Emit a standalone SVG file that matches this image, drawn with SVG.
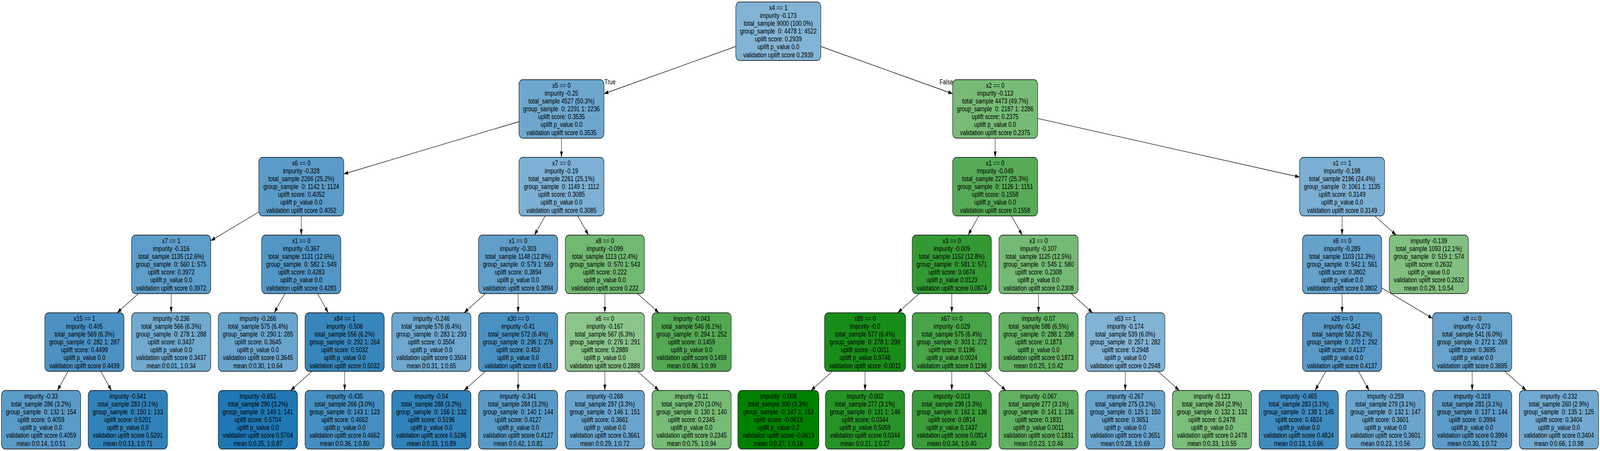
<svg xmlns="http://www.w3.org/2000/svg" width="5493" height="1155" viewBox="0 0 5493 1155" preserveAspectRatio="none" style="width:100vw;height:100vh;display:block">
<style>
text{font-family:"Liberation Sans",Arial,Helvetica,sans-serif;font-size:19px;fill:#000}
.nd text{text-anchor:middle}
.nd rect{stroke:#000;stroke-width:1.3}
#connectors line{stroke:#000;stroke-width:1.3;fill:none}
</style>
<defs>
<marker id="arr" markerUnits="userSpaceOnUse" markerWidth="15" markerHeight="10" refX="15" refY="5" orient="auto"><path d="M0,0 L15,5 L0,10 Z" fill="#000"/></marker>
</defs>
<rect width="5493" height="1155" fill="#fff"/>
<g id="connectors" marker-end="url(#arr)">
<line x1="2526.1" y1="119" x2="2073.6" y2="240"/>
<line x1="2818.1" y1="119" x2="3270.5" y2="240"/>
<line x1="1781.6" y1="311.5" x2="1180.3" y2="445.5"/>
<line x1="1927.6" y1="354" x2="1927.6" y2="403"/>
<line x1="3416.5" y1="354" x2="3416.5" y2="403"/>
<line x1="3562.5" y1="303.4" x2="4461.6" y2="453.6"/>
<line x1="888.3" y1="543" x2="723.7" y2="616.4"/>
<line x1="1034.3" y1="553" x2="1034.3" y2="602"/>
<line x1="1871.5" y1="553" x2="1834.8" y2="602"/>
<line x1="1983.7" y1="553" x2="2020.4" y2="602"/>
<line x1="3360.4" y1="553" x2="3323.7" y2="602"/>
<line x1="3472.6" y1="553" x2="3509.3" y2="602"/>
<line x1="4607.6" y1="553" x2="4607.6" y2="602"/>
<line x1="4719.8" y1="553" x2="4793.2" y2="602"/>
<line x1="475.5" y1="752" x2="402.1" y2="801"/>
<line x1="587.7" y1="752" x2="587.7" y2="801"/>
<line x1="978.2" y1="752" x2="941.5" y2="801"/>
<line x1="1090.4" y1="752" x2="1127.1" y2="801"/>
<line x1="1666.5" y1="752" x2="1593.2" y2="801"/>
<line x1="1778.7" y1="752" x2="1778.7" y2="801"/>
<line x1="2076.5" y1="752" x2="2076.5" y2="801"/>
<line x1="2188.7" y1="752" x2="2262.1" y2="801"/>
<line x1="3155.4" y1="752" x2="3082.0" y2="801"/>
<line x1="3267.6" y1="752" x2="3267.6" y2="801"/>
<line x1="3565.4" y1="752" x2="3565.4" y2="801"/>
<line x1="3677.6" y1="752" x2="3751.0" y2="801"/>
<line x1="4607.6" y1="752" x2="4607.6" y2="801"/>
<line x1="4743.6" y1="737.6" x2="4918.2" y2="815.4"/>
<line x1="233.8" y1="951" x2="197.1" y2="1000"/>
<line x1="346.0" y1="951" x2="382.7" y2="1000"/>
<line x1="1071.0" y1="951" x2="997.6" y2="1000"/>
<line x1="1183.2" y1="951" x2="1183.2" y2="1000"/>
<line x1="1666.5" y1="951" x2="1593.2" y2="1000"/>
<line x1="1778.7" y1="951" x2="1778.7" y2="1000"/>
<line x1="2076.5" y1="951" x2="2076.5" y2="1000"/>
<line x1="2188.7" y1="951" x2="2262.1" y2="1000"/>
<line x1="2857.6" y1="951" x2="2784.3" y2="1000"/>
<line x1="2969.8" y1="951" x2="2969.8" y2="1000"/>
<line x1="3267.6" y1="951" x2="3267.6" y2="1000"/>
<line x1="3379.8" y1="951" x2="3453.2" y2="1000"/>
<line x1="3863.2" y1="951" x2="3863.2" y2="1000"/>
<line x1="3975.4" y1="951" x2="4048.7" y2="1000"/>
<line x1="4551.5" y1="951" x2="4514.8" y2="1000"/>
<line x1="4663.7" y1="951" x2="4700.4" y2="1000"/>
<line x1="5054.2" y1="951" x2="5054.2" y2="1000"/>
<line x1="5166.4" y1="951" x2="5239.8" y2="1000"/>
</g>
<g id="edge-labels">
<text x="2075" y="216">True</text>
<text x="3272" y="216" text-anchor="end">False</text>
</g>
<g id="n_root" class="nd"><rect x="2526.1" y="5" width="292" height="150" rx="13" fill="#83b4d5"/><text x="2672.1" y="26" xml:space="preserve"><tspan x="2672.1">x4 == 1</tspan><tspan x="2672.1" dy="20.1">impurity -0.173</tspan><tspan x="2672.1" dy="20.1">total_sample 9000 (100.0%)</tspan><tspan x="2672.1" dy="20.1">group_sample  0: 4478 1: 4522</tspan><tspan x="2672.1" dy="20.1">uplift score: 0.2939</tspan><tspan x="2672.1" dy="20.1">uplift p_value 0.0</tspan><tspan x="2672.1" dy="20.1">validation uplift score 0.2939</tspan></text></g>
<g id="n_x5" class="nd"><rect x="1781.6" y="204" width="292" height="150" rx="13" fill="#6da7ce"/><text x="1927.6" y="225" xml:space="preserve"><tspan x="1927.6">x5 == 0</tspan><tspan x="1927.6" dy="20.1">impurity -0.25</tspan><tspan x="1927.6" dy="20.1">total_sample 4527 (50.3%)</tspan><tspan x="1927.6" dy="20.1">group_sample  0: 2291 1: 2236</tspan><tspan x="1927.6" dy="20.1">uplift score: 0.3535</tspan><tspan x="1927.6" dy="20.1">uplift p_value 0.0</tspan><tspan x="1927.6" dy="20.1">validation uplift score 0.3535</tspan></text></g>
<g id="n_x2" class="nd"><rect x="3270.5" y="204" width="292" height="150" rx="13" fill="#77bb77"/><text x="3416.5" y="225" xml:space="preserve"><tspan x="3416.5">x2 == 0</tspan><tspan x="3416.5" dy="20.1">impurity -0.113</tspan><tspan x="3416.5" dy="20.1">total_sample 4473 (49.7%)</tspan><tspan x="3416.5" dy="20.1">group_sample  0: 2187 1: 2286</tspan><tspan x="3416.5" dy="20.1">uplift score: 0.2375</tspan><tspan x="3416.5" dy="20.1">uplift p_value 0.0</tspan><tspan x="3416.5" dy="20.1">validation uplift score 0.2375</tspan></text></g>
<g id="n_x6_L2" class="nd"><rect x="888.3" y="403" width="292" height="150" rx="13" fill="#5b9bc8"/><text x="1034.3" y="424" xml:space="preserve"><tspan x="1034.3">x6 == 0</tspan><tspan x="1034.3" dy="20.1">impurity -0.328</tspan><tspan x="1034.3" dy="20.1">total_sample 2266 (25.2%)</tspan><tspan x="1034.3" dy="20.1">group_sample  0: 1142 1: 1124</tspan><tspan x="1034.3" dy="20.1">uplift score: 0.4052</tspan><tspan x="1034.3" dy="20.1">uplift p_value 0.0</tspan><tspan x="1034.3" dy="20.1">validation uplift score 0.4052</tspan></text></g>
<g id="n_x7_L2" class="nd"><rect x="1781.6" y="403" width="292" height="150" rx="13" fill="#7db0d4"/><text x="1927.6" y="424" xml:space="preserve"><tspan x="1927.6">x7 == 0</tspan><tspan x="1927.6" dy="20.1">impurity -0.19</tspan><tspan x="1927.6" dy="20.1">total_sample 2261 (25.1%)</tspan><tspan x="1927.6" dy="20.1">group_sample  0: 1149 1: 1112</tspan><tspan x="1927.6" dy="20.1">uplift score: 0.3085</tspan><tspan x="1927.6" dy="20.1">uplift p_value 0.0</tspan><tspan x="1927.6" dy="20.1">validation uplift score 0.3085</tspan></text></g>
<g id="n_x1_L2a" class="nd"><rect x="3270.5" y="403" width="292" height="150" rx="13" fill="#57ab57"/><text x="3416.5" y="424" xml:space="preserve"><tspan x="3416.5">x1 == 0</tspan><tspan x="3416.5" dy="20.1">impurity -0.049</tspan><tspan x="3416.5" dy="20.1">total_sample 2277 (25.3%)</tspan><tspan x="3416.5" dy="20.1">group_sample  0: 1126 1: 1151</tspan><tspan x="3416.5" dy="20.1">uplift score: 0.1558</tspan><tspan x="3416.5" dy="20.1">uplift p_value 0.0</tspan><tspan x="3416.5" dy="20.1">validation uplift score 0.1558</tspan></text></g>
<g id="n_x1_L2b" class="nd"><rect x="4461.6" y="403" width="292" height="150" rx="13" fill="#7bafd3"/><text x="4607.6" y="424" xml:space="preserve"><tspan x="4607.6">x1 == 1</tspan><tspan x="4607.6" dy="20.1">impurity -0.198</tspan><tspan x="4607.6" dy="20.1">total_sample 2196 (24.4%)</tspan><tspan x="4607.6" dy="20.1">group_sample  0: 1061 1: 1135</tspan><tspan x="4607.6" dy="20.1">uplift score: 0.3149</tspan><tspan x="4607.6" dy="20.1">uplift p_value 0.0</tspan><tspan x="4607.6" dy="20.1">validation uplift score 0.3149</tspan></text></g>
<g id="n_x7_L3" class="nd"><rect x="451.7" y="602" width="272" height="150" rx="13" fill="#5d9dc9"/><text x="587.7" y="623" xml:space="preserve"><tspan x="587.7">x7 == 1</tspan><tspan x="587.7" dy="20.1">impurity -0.316</tspan><tspan x="587.7" dy="20.1">total_sample 1135 (12.6%)</tspan><tspan x="587.7" dy="20.1">group_sample  0: 560 1: 575</tspan><tspan x="587.7" dy="20.1">uplift score: 0.3972</tspan><tspan x="587.7" dy="20.1">uplift p_value 0.0</tspan><tspan x="587.7" dy="20.1">validation uplift score 0.3972</tspan></text></g>
<g id="n_x1_L3a" class="nd"><rect x="898.3" y="602" width="272" height="150" rx="13" fill="#5296c5"/><text x="1034.3" y="623" xml:space="preserve"><tspan x="1034.3">x1 == 0</tspan><tspan x="1034.3" dy="20.1">impurity -0.367</tspan><tspan x="1034.3" dy="20.1">total_sample 1131 (12.6%)</tspan><tspan x="1034.3" dy="20.1">group_sample  0: 582 1: 549</tspan><tspan x="1034.3" dy="20.1">uplift score: 0.4283</tspan><tspan x="1034.3" dy="20.1">uplift p_value 0.0</tspan><tspan x="1034.3" dy="20.1">validation uplift score 0.4283</tspan></text></g>
<g id="n_x1_L3b" class="nd"><rect x="1642.7" y="602" width="272" height="150" rx="13" fill="#609fca"/><text x="1778.7" y="623" xml:space="preserve"><tspan x="1778.7">x1 == 0</tspan><tspan x="1778.7" dy="20.1">impurity -0.303</tspan><tspan x="1778.7" dy="20.1">total_sample 1148 (12.8%)</tspan><tspan x="1778.7" dy="20.1">group_sample  0: 579 1: 569</tspan><tspan x="1778.7" dy="20.1">uplift score: 0.3894</tspan><tspan x="1778.7" dy="20.1">uplift p_value 0.0</tspan><tspan x="1778.7" dy="20.1">validation uplift score 0.3894</tspan></text></g>
<g id="n_x8_L3" class="nd"><rect x="1940.5" y="602" width="272" height="150" rx="13" fill="#71b871"/><text x="2076.5" y="623" xml:space="preserve"><tspan x="2076.5">x8 == 0</tspan><tspan x="2076.5" dy="20.1">impurity -0.099</tspan><tspan x="2076.5" dy="20.1">total_sample 1113 (12.4%)</tspan><tspan x="2076.5" dy="20.1">group_sample  0: 570 1: 543</tspan><tspan x="2076.5" dy="20.1">uplift score: 0.222</tspan><tspan x="2076.5" dy="20.1">uplift p_value 0.0</tspan><tspan x="2076.5" dy="20.1">validation uplift score 0.222</tspan></text></g>
<g id="n_x3_L3a" class="nd"><rect x="3131.6" y="602" width="272" height="150" rx="13" fill="#339a33"/><text x="3267.6" y="623" xml:space="preserve"><tspan x="3267.6">x3 == 0</tspan><tspan x="3267.6" dy="20.1">impurity -0.009</tspan><tspan x="3267.6" dy="20.1">total_sample 1152 (12.8%)</tspan><tspan x="3267.6" dy="20.1">group_sample  0: 581 1: 571</tspan><tspan x="3267.6" dy="20.1">uplift score: 0.0674</tspan><tspan x="3267.6" dy="20.1">uplift p_value 0.0123</tspan><tspan x="3267.6" dy="20.1">validation uplift score 0.0674</tspan></text></g>
<g id="n_x3_L3b" class="nd"><rect x="3429.4" y="602" width="272" height="150" rx="13" fill="#74ba74"/><text x="3565.4" y="623" xml:space="preserve"><tspan x="3565.4">x3 == 0</tspan><tspan x="3565.4" dy="20.1">impurity -0.107</tspan><tspan x="3565.4" dy="20.1">total_sample 1125 (12.5%)</tspan><tspan x="3565.4" dy="20.1">group_sample  0: 545 1: 580</tspan><tspan x="3565.4" dy="20.1">uplift score: 0.2308</tspan><tspan x="3565.4" dy="20.1">uplift p_value 0.0</tspan><tspan x="3565.4" dy="20.1">validation uplift score 0.2308</tspan></text></g>
<g id="n_x6_L3" class="nd"><rect x="4471.6" y="602" width="272" height="150" rx="13" fill="#64a1cb"/><text x="4607.6" y="623" xml:space="preserve"><tspan x="4607.6">x6 == 0</tspan><tspan x="4607.6" dy="20.1">impurity -0.289</tspan><tspan x="4607.6" dy="20.1">total_sample 1103 (12.3%)</tspan><tspan x="4607.6" dy="20.1">group_sample  0: 542 1: 561</tspan><tspan x="4607.6" dy="20.1">uplift score: 0.3802</tspan><tspan x="4607.6" dy="20.1">uplift p_value 0.0</tspan><tspan x="4607.6" dy="20.1">validation uplift score 0.3802</tspan></text></g>
<g id="n_leaf_139" class="nd"><rect x="4769.4" y="602" width="272" height="150" rx="13" fill="#81c081"/><text x="4905.4" y="623" xml:space="preserve"><tspan x="4905.4">impurity -0.139</tspan><tspan x="4905.4" dy="20.1">total_sample 1093 (12.1%)</tspan><tspan x="4905.4" dy="20.1">group_sample  0: 519 1: 574</tspan><tspan x="4905.4" dy="20.1">uplift score: 0.2632</tspan><tspan x="4905.4" dy="20.1">uplift p_value 0.0</tspan><tspan x="4905.4" dy="20.1">validation uplift score 0.2632</tspan><tspan x="4905.4" dy="20.1">mean 0:0.29, 1:0.54</tspan></text></g>
<g id="n_x15" class="nd"><rect x="153.9" y="801" width="272" height="150" rx="13" fill="#4b91c3"/><text x="289.9" y="822" xml:space="preserve"><tspan x="289.9">x15 == 1</tspan><tspan x="289.9" dy="20.1">impurity -0.405</tspan><tspan x="289.9" dy="20.1">total_sample 569 (6.3%)</tspan><tspan x="289.9" dy="20.1">group_sample  0: 282 1: 287</tspan><tspan x="289.9" dy="20.1">uplift score: 0.4499</tspan><tspan x="289.9" dy="20.1">uplift p_value 0.0</tspan><tspan x="289.9" dy="20.1">validation uplift score 0.4499</tspan></text></g>
<g id="n_leaf_236" class="nd"><rect x="451.7" y="801" width="272" height="150" rx="13" fill="#71a9cf"/><text x="587.7" y="822" xml:space="preserve"><tspan x="587.7">impurity -0.236</tspan><tspan x="587.7" dy="20.1">total_sample 566 (6.3%)</tspan><tspan x="587.7" dy="20.1">group_sample  0: 278 1: 288</tspan><tspan x="587.7" dy="20.1">uplift score: 0.3437</tspan><tspan x="587.7" dy="20.1">uplift p_value 0.0</tspan><tspan x="587.7" dy="20.1">validation uplift score 0.3437</tspan><tspan x="587.7" dy="20.1">mean 0:0.01, 1:0.34</tspan></text></g>
<g id="n_leaf_266" class="nd"><rect x="749.4" y="801" width="272" height="150" rx="13" fill="#69a4cd"/><text x="885.4" y="822" xml:space="preserve"><tspan x="885.4">impurity -0.266</tspan><tspan x="885.4" dy="20.1">total_sample 575 (6.4%)</tspan><tspan x="885.4" dy="20.1">group_sample  0: 290 1: 285</tspan><tspan x="885.4" dy="20.1">uplift score: 0.3645</tspan><tspan x="885.4" dy="20.1">uplift p_value 0.0</tspan><tspan x="885.4" dy="20.1">validation uplift score 0.3645</tspan><tspan x="885.4" dy="20.1">mean 0:0.30, 1:0.64</tspan></text></g>
<g id="n_x84" class="nd"><rect x="1047.2" y="801" width="272" height="150" rx="13" fill="#3786bc"/><text x="1183.2" y="822" xml:space="preserve"><tspan x="1183.2">x84 == 1</tspan><tspan x="1183.2" dy="20.1">impurity -0.506</tspan><tspan x="1183.2" dy="20.1">total_sample 556 (6.2%)</tspan><tspan x="1183.2" dy="20.1">group_sample  0: 292 1: 264</tspan><tspan x="1183.2" dy="20.1">uplift score: 0.5032</tspan><tspan x="1183.2" dy="20.1">uplift p_value 0.0</tspan><tspan x="1183.2" dy="20.1">validation uplift score 0.5032</tspan></text></g>
<g id="n_leaf_246" class="nd"><rect x="1345.0" y="801" width="272" height="150" rx="13" fill="#6ea7cf"/><text x="1481.0" y="822" xml:space="preserve"><tspan x="1481.0">impurity -0.246</tspan><tspan x="1481.0" dy="20.1">total_sample 576 (6.4%)</tspan><tspan x="1481.0" dy="20.1">group_sample  0: 283 1: 293</tspan><tspan x="1481.0" dy="20.1">uplift score: 0.3504</tspan><tspan x="1481.0" dy="20.1">uplift p_value 0.0</tspan><tspan x="1481.0" dy="20.1">validation uplift score 0.3504</tspan><tspan x="1481.0" dy="20.1">mean 0:0.31, 1:0.65</tspan></text></g>
<g id="n_x30" class="nd"><rect x="1642.7" y="801" width="272" height="150" rx="13" fill="#4991c2"/><text x="1778.7" y="822" xml:space="preserve"><tspan x="1778.7">x30 == 0</tspan><tspan x="1778.7" dy="20.1">impurity -0.41</tspan><tspan x="1778.7" dy="20.1">total_sample 572 (6.4%)</tspan><tspan x="1778.7" dy="20.1">group_sample  0: 296 1: 276</tspan><tspan x="1778.7" dy="20.1">uplift score: 0.453</tspan><tspan x="1778.7" dy="20.1">uplift p_value 0.0</tspan><tspan x="1778.7" dy="20.1">validation uplift score 0.453</tspan></text></g>
<g id="n_x6_L4" class="nd"><rect x="1940.5" y="801" width="272" height="150" rx="13" fill="#8bc58b"/><text x="2076.5" y="822" xml:space="preserve"><tspan x="2076.5">x6 == 0</tspan><tspan x="2076.5" dy="20.1">impurity -0.167</tspan><tspan x="2076.5" dy="20.1">total_sample 567 (6.3%)</tspan><tspan x="2076.5" dy="20.1">group_sample  0: 276 1: 291</tspan><tspan x="2076.5" dy="20.1">uplift score: 0.2889</tspan><tspan x="2076.5" dy="20.1">uplift p_value 0.0</tspan><tspan x="2076.5" dy="20.1">validation uplift score 0.2889</tspan></text></g>
<g id="n_leaf_043" class="nd"><rect x="2238.3" y="801" width="272" height="150" rx="13" fill="#53a953"/><text x="2374.3" y="822" xml:space="preserve"><tspan x="2374.3">impurity -0.043</tspan><tspan x="2374.3" dy="20.1">total_sample 546 (6.1%)</tspan><tspan x="2374.3" dy="20.1">group_sample  0: 294 1: 252</tspan><tspan x="2374.3" dy="20.1">uplift score: 0.1459</tspan><tspan x="2374.3" dy="20.1">uplift p_value 0.0</tspan><tspan x="2374.3" dy="20.1">validation uplift score 0.1459</tspan><tspan x="2374.3" dy="20.1">mean 0:0.86, 1:0.99</tspan></text></g>
<g id="n_x89" class="nd"><rect x="2830.8" y="801" width="278" height="150" rx="13" fill="#188c18"/><text x="2969.8" y="822" xml:space="preserve"><tspan x="2969.8">x89 == 0</tspan><tspan x="2969.8" dy="20.1">impurity -0.0</tspan><tspan x="2969.8" dy="20.1">total_sample 577 (6.4%)</tspan><tspan x="2969.8" dy="20.1">group_sample  0: 278 1: 299</tspan><tspan x="2969.8" dy="20.1">uplift score: -0.0011</tspan><tspan x="2969.8" dy="20.1">uplift p_value 0.9746</tspan><tspan x="2969.8" dy="20.1">validation uplift score -0.0011</tspan></text></g>
<g id="n_x67" class="nd"><rect x="3131.6" y="801" width="272" height="150" rx="13" fill="#48a448"/><text x="3267.6" y="822" xml:space="preserve"><tspan x="3267.6">x67 == 0</tspan><tspan x="3267.6" dy="20.1">impurity -0.029</tspan><tspan x="3267.6" dy="20.1">total_sample 575 (6.4%)</tspan><tspan x="3267.6" dy="20.1">group_sample  0: 303 1: 272</tspan><tspan x="3267.6" dy="20.1">uplift score: 0.1196</tspan><tspan x="3267.6" dy="20.1">uplift p_value 0.0024</tspan><tspan x="3267.6" dy="20.1">validation uplift score 0.1196</tspan></text></g>
<g id="n_leaf_07" class="nd"><rect x="3429.4" y="801" width="272" height="150" rx="13" fill="#63b163"/><text x="3565.4" y="822" xml:space="preserve"><tspan x="3565.4">impurity -0.07</tspan><tspan x="3565.4" dy="20.1">total_sample 586 (6.5%)</tspan><tspan x="3565.4" dy="20.1">group_sample  0: 288 1: 298</tspan><tspan x="3565.4" dy="20.1">uplift score: 0.1873</tspan><tspan x="3565.4" dy="20.1">uplift p_value 0.0</tspan><tspan x="3565.4" dy="20.1">validation uplift score 0.1873</tspan><tspan x="3565.4" dy="20.1">mean 0:0.25, 1:0.42</tspan></text></g>
<g id="n_x63" class="nd"><rect x="3727.2" y="801" width="272" height="150" rx="13" fill="#82b3d5"/><text x="3863.2" y="822" xml:space="preserve"><tspan x="3863.2">x63 == 1</tspan><tspan x="3863.2" dy="20.1">impurity -0.174</tspan><tspan x="3863.2" dy="20.1">total_sample 539 (6.0%)</tspan><tspan x="3863.2" dy="20.1">group_sample  0: 257 1: 282</tspan><tspan x="3863.2" dy="20.1">uplift score: 0.2948</tspan><tspan x="3863.2" dy="20.1">uplift p_value 0.0</tspan><tspan x="3863.2" dy="20.1">validation uplift score 0.2948</tspan></text></g>
<g id="n_x26" class="nd"><rect x="4471.6" y="801" width="272" height="150" rx="13" fill="#5899c7"/><text x="4607.6" y="822" xml:space="preserve"><tspan x="4607.6">x26 == 0</tspan><tspan x="4607.6" dy="20.1">impurity -0.342</tspan><tspan x="4607.6" dy="20.1">total_sample 562 (6.2%)</tspan><tspan x="4607.6" dy="20.1">group_sample  0: 270 1: 292</tspan><tspan x="4607.6" dy="20.1">uplift score: 0.4137</tspan><tspan x="4607.6" dy="20.1">uplift p_value 0.0</tspan><tspan x="4607.6" dy="20.1">validation uplift score 0.4137</tspan></text></g>
<g id="n_x8_L4" class="nd"><rect x="4918.2" y="801" width="272" height="150" rx="13" fill="#67a3cc"/><text x="5054.2" y="822" xml:space="preserve"><tspan x="5054.2">x8 == 0</tspan><tspan x="5054.2" dy="20.1">impurity -0.273</tspan><tspan x="5054.2" dy="20.1">total_sample 541 (6.0%)</tspan><tspan x="5054.2" dy="20.1">group_sample  0: 272 1: 269</tspan><tspan x="5054.2" dy="20.1">uplift score: 0.3695</tspan><tspan x="5054.2" dy="20.1">uplift p_value 0.0</tspan><tspan x="5054.2" dy="20.1">validation uplift score 0.3695</tspan></text></g>
<g id="n_leaf_33" class="nd"><rect x="5" y="1000" width="272" height="150" rx="13" fill="#5a9bc8"/><text x="141" y="1021" xml:space="preserve"><tspan x="141">impurity -0.33</tspan><tspan x="141" dy="20.1">total_sample 286 (3.2%)</tspan><tspan x="141" dy="20.1">group_sample  0: 132 1: 154</tspan><tspan x="141" dy="20.1">uplift score: 0.4059</tspan><tspan x="141" dy="20.1">uplift p_value 0.0</tspan><tspan x="141" dy="20.1">validation uplift score 0.4059</tspan><tspan x="141" dy="20.1">mean 0:0.14, 1:0.51</tspan></text></g>
<g id="n_leaf_541" class="nd"><rect x="302.8" y="1000" width="272" height="150" rx="13" fill="#3182ba"/><text x="438.8" y="1021" xml:space="preserve"><tspan x="438.8">impurity -0.541</tspan><tspan x="438.8" dy="20.1">total_sample 283 (3.1%)</tspan><tspan x="438.8" dy="20.1">group_sample  0: 150 1: 133</tspan><tspan x="438.8" dy="20.1">uplift score: 0.5201</tspan><tspan x="438.8" dy="20.1">uplift p_value 0.0</tspan><tspan x="438.8" dy="20.1">validation uplift score 0.5201</tspan><tspan x="438.8" dy="20.1">mean 0:0.13, 1:0.71</tspan></text></g>
<g id="n_leaf_651" class="nd"><rect x="749.4" y="1000" width="272" height="150" rx="13" fill="#1f77b4"/><text x="885.4" y="1021" xml:space="preserve"><tspan x="885.4">impurity -0.651</tspan><tspan x="885.4" dy="20.1">total_sample 290 (3.2%)</tspan><tspan x="885.4" dy="20.1">group_sample  0: 149 1: 141</tspan><tspan x="885.4" dy="20.1">uplift score: 0.5704</tspan><tspan x="885.4" dy="20.1">uplift p_value 0.0</tspan><tspan x="885.4" dy="20.1">validation uplift score 0.5704</tspan><tspan x="885.4" dy="20.1">mean 0:0.25, 1:0.87</tspan></text></g>
<g id="n_leaf_435" class="nd"><rect x="1047.2" y="1000" width="272" height="150" rx="13" fill="#458ec1"/><text x="1183.2" y="1021" xml:space="preserve"><tspan x="1183.2">impurity -0.435</tspan><tspan x="1183.2" dy="20.1">total_sample 266 (3.0%)</tspan><tspan x="1183.2" dy="20.1">group_sample  0: 143 1: 123</tspan><tspan x="1183.2" dy="20.1">uplift score: 0.4662</tspan><tspan x="1183.2" dy="20.1">uplift p_value 0.0</tspan><tspan x="1183.2" dy="20.1">validation uplift score 0.4662</tspan><tspan x="1183.2" dy="20.1">mean 0:0.36, 1:0.80</tspan></text></g>
<g id="n_leaf_54" class="nd"><rect x="1345.0" y="1000" width="272" height="150" rx="13" fill="#3182ba"/><text x="1481.0" y="1021" xml:space="preserve"><tspan x="1481.0">impurity -0.54</tspan><tspan x="1481.0" dy="20.1">total_sample 288 (3.2%)</tspan><tspan x="1481.0" dy="20.1">group_sample  0: 156 1: 132</tspan><tspan x="1481.0" dy="20.1">uplift score: 0.5196</tspan><tspan x="1481.0" dy="20.1">uplift p_value 0.0</tspan><tspan x="1481.0" dy="20.1">validation uplift score 0.5196</tspan><tspan x="1481.0" dy="20.1">mean 0:0.33, 1:0.89</tspan></text></g>
<g id="n_leaf_341" class="nd"><rect x="1642.7" y="1000" width="272" height="150" rx="13" fill="#589ac7"/><text x="1778.7" y="1021" xml:space="preserve"><tspan x="1778.7">impurity -0.341</tspan><tspan x="1778.7" dy="20.1">total_sample 284 (3.2%)</tspan><tspan x="1778.7" dy="20.1">group_sample  0: 140 1: 144</tspan><tspan x="1778.7" dy="20.1">uplift score: 0.4127</tspan><tspan x="1778.7" dy="20.1">uplift p_value 0.0</tspan><tspan x="1778.7" dy="20.1">validation uplift score 0.4127</tspan><tspan x="1778.7" dy="20.1">mean 0:0.42, 1:0.81</tspan></text></g>
<g id="n_leaf_268" class="nd"><rect x="1940.5" y="1000" width="272" height="150" rx="13" fill="#69a4cd"/><text x="2076.5" y="1021" xml:space="preserve"><tspan x="2076.5">impurity -0.268</tspan><tspan x="2076.5" dy="20.1">total_sample 297 (3.3%)</tspan><tspan x="2076.5" dy="20.1">group_sample  0: 146 1: 151</tspan><tspan x="2076.5" dy="20.1">uplift score: 0.3661</tspan><tspan x="2076.5" dy="20.1">uplift p_value 0.0</tspan><tspan x="2076.5" dy="20.1">validation uplift score 0.3661</tspan><tspan x="2076.5" dy="20.1">mean 0:0.29, 1:0.72</tspan></text></g>
<g id="n_leaf_11" class="nd"><rect x="2238.3" y="1000" width="272" height="150" rx="13" fill="#76bb76"/><text x="2374.3" y="1021" xml:space="preserve"><tspan x="2374.3">impurity -0.11</tspan><tspan x="2374.3" dy="20.1">total_sample 270 (3.0%)</tspan><tspan x="2374.3" dy="20.1">group_sample  0: 130 1: 140</tspan><tspan x="2374.3" dy="20.1">uplift score: 0.2345</tspan><tspan x="2374.3" dy="20.1">uplift p_value 0.0</tspan><tspan x="2374.3" dy="20.1">validation uplift score 0.2345</tspan><tspan x="2374.3" dy="20.1">mean 0:0.75, 1:0.94</tspan></text></g>
<g id="n_leaf_008" class="nd"><rect x="2533.1" y="1000" width="278" height="150" rx="13" fill="#008000"/><text x="2672.1" y="1021" xml:space="preserve"><tspan x="2672.1">impurity -0.008</tspan><tspan x="2672.1" dy="20.1">total_sample 300 (3.3%)</tspan><tspan x="2672.1" dy="20.1">group_sample  0: 147 1: 153</tspan><tspan x="2672.1" dy="20.1">uplift score: -0.0619</tspan><tspan x="2672.1" dy="20.1">uplift p_value 0.2</tspan><tspan x="2672.1" dy="20.1">validation uplift score -0.0619</tspan><tspan x="2672.1" dy="20.1">mean 0:0.27, 1:0.16</tspan></text></g>
<g id="n_leaf_002" class="nd"><rect x="2833.8" y="1000" width="272" height="150" rx="13" fill="#269326"/><text x="2969.8" y="1021" xml:space="preserve"><tspan x="2969.8">impurity -0.002</tspan><tspan x="2969.8" dy="20.1">total_sample 277 (3.1%)</tspan><tspan x="2969.8" dy="20.1">group_sample  0: 131 1: 146</tspan><tspan x="2969.8" dy="20.1">uplift score: 0.0344</tspan><tspan x="2969.8" dy="20.1">uplift p_value 0.5059</tspan><tspan x="2969.8" dy="20.1">validation uplift score 0.0344</tspan><tspan x="2969.8" dy="20.1">mean 0:0.21, 1:0.27</tspan></text></g>
<g id="n_leaf_013" class="nd"><rect x="3131.6" y="1000" width="272" height="150" rx="13" fill="#399c39"/><text x="3267.6" y="1021" xml:space="preserve"><tspan x="3267.6">impurity -0.013</tspan><tspan x="3267.6" dy="20.1">total_sample 298 (3.3%)</tspan><tspan x="3267.6" dy="20.1">group_sample  0: 162 1: 136</tspan><tspan x="3267.6" dy="20.1">uplift score: 0.0814</tspan><tspan x="3267.6" dy="20.1">uplift p_value 0.1437</tspan><tspan x="3267.6" dy="20.1">validation uplift score 0.0814</tspan><tspan x="3267.6" dy="20.1">mean 0:0.34, 1:0.40</tspan></text></g>
<g id="n_leaf_067" class="nd"><rect x="3429.4" y="1000" width="272" height="150" rx="13" fill="#61b061"/><text x="3565.4" y="1021" xml:space="preserve"><tspan x="3565.4">impurity -0.067</tspan><tspan x="3565.4" dy="20.1">total_sample 277 (3.1%)</tspan><tspan x="3565.4" dy="20.1">group_sample  0: 141 1: 136</tspan><tspan x="3565.4" dy="20.1">uplift score: 0.1831</tspan><tspan x="3565.4" dy="20.1">uplift p_value 0.0011</tspan><tspan x="3565.4" dy="20.1">validation uplift score 0.1831</tspan><tspan x="3565.4" dy="20.1">mean 0:0.23, 1:0.46</tspan></text></g>
<g id="n_leaf_267" class="nd"><rect x="3727.2" y="1000" width="272" height="150" rx="13" fill="#69a4cd"/><text x="3863.2" y="1021" xml:space="preserve"><tspan x="3863.2">impurity -0.267</tspan><tspan x="3863.2" dy="20.1">total_sample 275 (3.1%)</tspan><tspan x="3863.2" dy="20.1">group_sample  0: 125 1: 150</tspan><tspan x="3863.2" dy="20.1">uplift score: 0.3651</tspan><tspan x="3863.2" dy="20.1">uplift p_value 0.0</tspan><tspan x="3863.2" dy="20.1">validation uplift score 0.3651</tspan><tspan x="3863.2" dy="20.1">mean 0:0.28, 1:0.69</tspan></text></g>
<g id="n_leaf_123" class="nd"><rect x="4024.9" y="1000" width="272" height="150" rx="13" fill="#7bbd7b"/><text x="4160.9" y="1021" xml:space="preserve"><tspan x="4160.9">impurity -0.123</tspan><tspan x="4160.9" dy="20.1">total_sample 264 (2.9%)</tspan><tspan x="4160.9" dy="20.1">group_sample  0: 132 1: 132</tspan><tspan x="4160.9" dy="20.1">uplift score: 0.2478</tspan><tspan x="4160.9" dy="20.1">uplift p_value 0.0</tspan><tspan x="4160.9" dy="20.1">validation uplift score 0.2478</tspan><tspan x="4160.9" dy="20.1">mean 0:0.33, 1:0.55</tspan></text></g>
<g id="n_leaf_465" class="nd"><rect x="4322.7" y="1000" width="272" height="150" rx="13" fill="#3f8abf"/><text x="4458.7" y="1021" xml:space="preserve"><tspan x="4458.7">impurity -0.465</tspan><tspan x="4458.7" dy="20.1">total_sample 283 (3.1%)</tspan><tspan x="4458.7" dy="20.1">group_sample  0: 138 1: 145</tspan><tspan x="4458.7" dy="20.1">uplift score: 0.4824</tspan><tspan x="4458.7" dy="20.1">uplift p_value 0.0</tspan><tspan x="4458.7" dy="20.1">validation uplift score 0.4824</tspan><tspan x="4458.7" dy="20.1">mean 0:0.13, 1:0.66</tspan></text></g>
<g id="n_leaf_259" class="nd"><rect x="4620.5" y="1000" width="272" height="150" rx="13" fill="#6ba5cd"/><text x="4756.5" y="1021" xml:space="preserve"><tspan x="4756.5">impurity -0.259</tspan><tspan x="4756.5" dy="20.1">total_sample 279 (3.1%)</tspan><tspan x="4756.5" dy="20.1">group_sample  0: 132 1: 147</tspan><tspan x="4756.5" dy="20.1">uplift score: 0.3601</tspan><tspan x="4756.5" dy="20.1">uplift p_value 0.0</tspan><tspan x="4756.5" dy="20.1">validation uplift score 0.3601</tspan><tspan x="4756.5" dy="20.1">mean 0:0.23, 1:0.56</tspan></text></g>
<g id="n_leaf_319" class="nd"><rect x="4918.2" y="1000" width="272" height="150" rx="13" fill="#5d9cc9"/><text x="5054.2" y="1021" xml:space="preserve"><tspan x="5054.2">impurity -0.319</tspan><tspan x="5054.2" dy="20.1">total_sample 281 (3.1%)</tspan><tspan x="5054.2" dy="20.1">group_sample  0: 137 1: 144</tspan><tspan x="5054.2" dy="20.1">uplift score: 0.3994</tspan><tspan x="5054.2" dy="20.1">uplift p_value 0.0</tspan><tspan x="5054.2" dy="20.1">validation uplift score 0.3994</tspan><tspan x="5054.2" dy="20.1">mean 0:0.30, 1:0.72</tspan></text></g>
<g id="n_leaf_232" class="nd"><rect x="5216.0" y="1000" width="272" height="150" rx="13" fill="#72a9d0"/><text x="5352.0" y="1021" xml:space="preserve"><tspan x="5352.0">impurity -0.232</tspan><tspan x="5352.0" dy="20.1">total_sample 260 (2.9%)</tspan><tspan x="5352.0" dy="20.1">group_sample  0: 135 1: 125</tspan><tspan x="5352.0" dy="20.1">uplift score: 0.3404</tspan><tspan x="5352.0" dy="20.1">uplift p_value 0.0</tspan><tspan x="5352.0" dy="20.1">validation uplift score 0.3404</tspan><tspan x="5352.0" dy="20.1">mean 0:0.66, 1:0.98</tspan></text></g>
</svg>
